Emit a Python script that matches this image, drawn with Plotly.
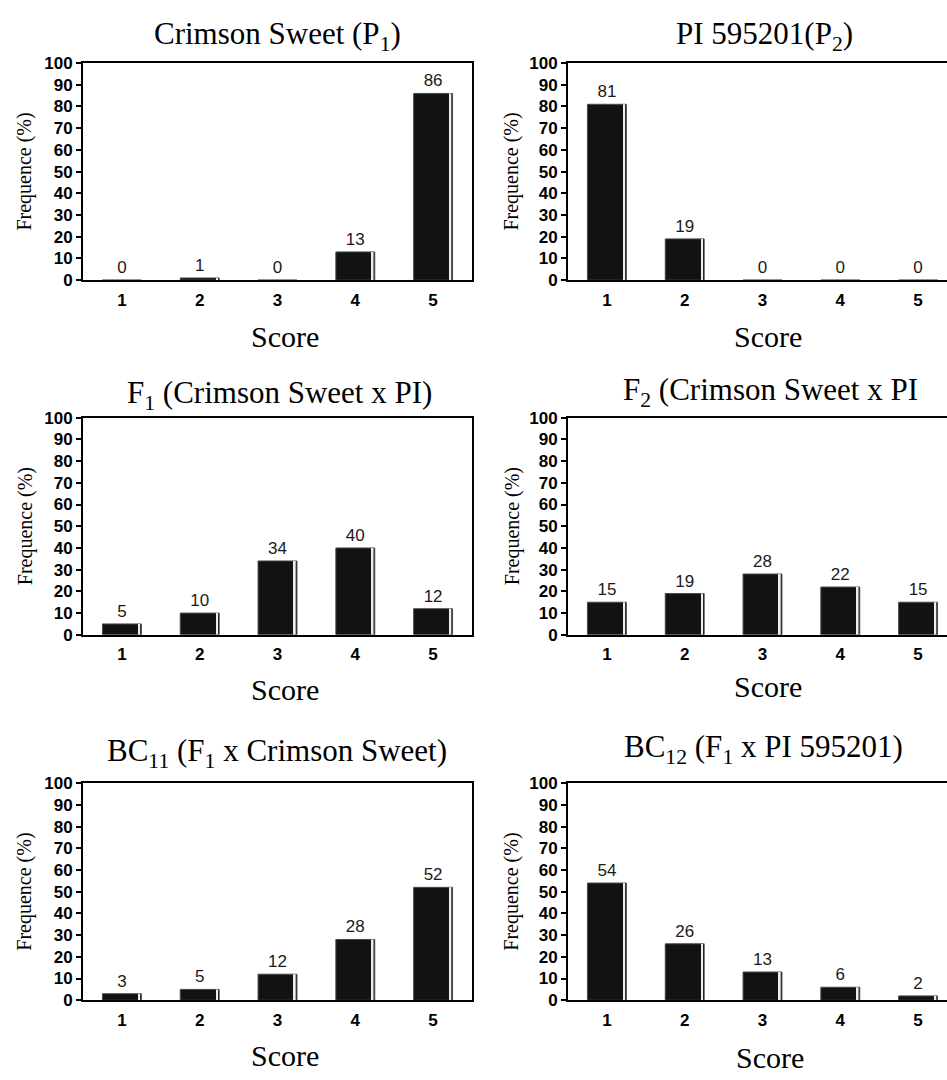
import plotly.graph_objects as go

# ---------------- data ----------------
scores = [1, 2, 3, 4, 5]
score_labels = ["1", "2", "3", "4", "5"]

p1_crimson = [0, 1, 0, 13, 86]
p2_pi = [81, 19, 0, 0, 0]
f1_cross = [5, 10, 34, 40, 12]
f2_cross = [15, 19, 28, 22, 15]
bc11 = [3, 5, 12, 28, 52]
bc12 = [54, 26, 13, 6, 2]

titles = [
    "Crimson Sweet (P<sub>1</sub>)",
    "PI 595201(P<sub>2</sub>)",
    "F<sub>1</sub> (Crimson Sweet x PI)",
    "F<sub>2</sub> (Crimson Sweet x PI",
    "BC<sub>11</sub> (F<sub>1</sub> x Crimson Sweet)",
    "BC<sub>12</sub> (F<sub>1</sub> x PI 595201)",
]
series = [p1_crimson, p2_pi, f1_cross, f2_cross, bc11, bc12]
y_ticks = list(range(0, 101, 10))

# ---------------- layout geometry (pixels) ----------------
W, H = 947, 1080
def px(x):
    return x / W
def py(y):
    return 1 - y / H

left_x = (83, 472)
right_x = (568, 957)          # right panels run past the page edge
rows_y = [(55, 276), (416, 637), (788, 1009)]
title_pos = [(277, 27), (764, 27), (279, 393), (770, 390), (277, 757), (763, 753)]
score_pos = [(285, 333), (768, 333), (285, 693), (768, 690), (285, 1065), (770, 1067)]
freq_x = [25, 512]

serif = "Liberation Serif, Times New Roman, serif"
sans = "Liberation Sans, Arial, sans-serif"

fig = go.Figure()
annotations = []

for i, vals in enumerate(series):
    r, c = divmod(i, 2)
    xa = "x" if i == 0 else f"x{i+1}"
    ya = "y" if i == 0 else f"y{i+1}"
    xk = "xaxis" if i == 0 else f"xaxis{i+1}"
    yk = "yaxis" if i == 0 else f"yaxis{i+1}"
    x0, x1 = left_x if c == 0 else right_x
    top, bot = rows_y[r]
    dom_x1 = min(x1, W)
    rng_hi = 0.5 + 5 * (dom_x1 - x0) / (x1 - x0)

    fig.add_trace(go.Bar(
        x=scores, y=vals, width=0.5, xaxis=xa, yaxis=ya,
        marker=dict(color="#121212", line=dict(color="#4a4a4a", width=1)),
        text=[str(v) for v in vals], textposition="outside",
        textfont=dict(family=sans, size=17, color="#1a1a1a"),
        cliponaxis=False, showlegend=False, hoverinfo="x+y",
    ))
    # thin light highlight stripe near the right edge of each bar
    fig.add_trace(go.Bar(
        x=scores, y=vals, width=0.022, offset=0.212, xaxis=xa, yaxis=ya,
        marker=dict(color="#eeeeee", line=dict(width=0)),
        showlegend=False, hoverinfo="skip",
    ))

    fig.layout[xk] = dict(
        domain=[px(x0), px(dom_x1)], range=[0.5, rng_hi], anchor=ya,
        tickmode="array", tickvals=scores, ticktext=score_labels,
        ticks="", ticklabelstandoff=3,
        tickfont=dict(family=sans, size=17, color="black", weight="bold"),
        showline=True, linecolor="black", linewidth=2, mirror=True,
        showgrid=False, zeroline=False, fixedrange=True,
    )
    fig.layout[yk] = dict(
        domain=[py(bot), py(top)], range=[0, 100], anchor=xa,
        tickmode="array", tickvals=y_ticks,
        ticks="outside", ticklen=5, tickwidth=1.5, tickcolor="black",
        tickfont=dict(family=sans, size=17, color="black", weight="bold"),
        showline=True, linecolor="black", linewidth=2, mirror=(c == 0),
        showgrid=False, zeroline=False, fixedrange=True,
    )

    tx, ty = title_pos[i]
    annotations.append(dict(
        text=titles[i], x=px(tx), y=py(ty), xref="paper", yref="paper",
        xanchor="center", yanchor="middle", showarrow=False,
        font=dict(family=serif, size=31, color="black"),
    ))
    sx, sy = score_pos[i]
    annotations.append(dict(
        text="Score", x=px(sx), y=py(sy), xref="paper", yref="paper",
        xanchor="center", yanchor="middle", showarrow=False,
        font=dict(family=serif, size=30, color="black"),
    ))
    annotations.append(dict(
        text="Frequence (%)", x=px(freq_x[c]), y=py((top + bot) / 2),
        xref="paper", yref="paper", textangle=-90,
        xanchor="center", yanchor="middle", showarrow=False,
        font=dict(family=serif, size=20, color="black"),
    ))

fig.update_layout(
    width=W, height=H, barmode="overlay",
    margin=dict(l=0, r=0, t=0, b=0),
    paper_bgcolor="white", plot_bgcolor="white",
    annotations=annotations, showlegend=False,
)

fig.write_html(
    "out.html",
    config={"displayModeBar": False},
    post_script="document.body.style.margin='0';document.body.style.overflow='hidden';",
)
